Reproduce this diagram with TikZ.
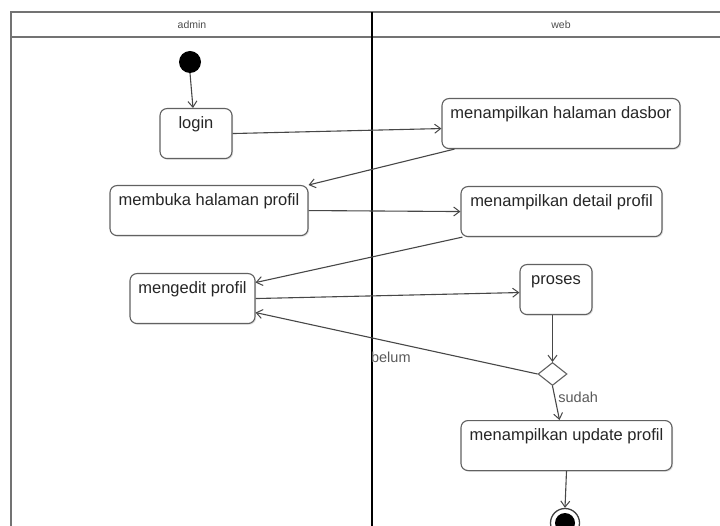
\documentclass[tikz,border=0pt]{standalone}
\usepackage{fontspec}
\setmainfont{Liberation Sans}
\usetikzlibrary{arrows.meta,shapes.geometric,shadows}
\begin{document}
\begin{tikzpicture}[x=1pt,y=-1pt,
  act/.style={draw=black!62, line width=1.1pt, rounded corners=7pt, fill=white,
    anchor=north, font=\fontsize{16.5}{19}\selectfont, text=black!85,
    inner xsep=2pt, inner ysep=0pt, text height=20pt, text depth=30pt,
    drop shadow={shadow xshift=1.2pt, shadow yshift=-1.2pt, opacity=0.25}},
  flow/.style={draw=black!72, line width=1.1pt,
    -{Straight Barb[length=6pt,width=9pt,line width=1pt]}},
  lane/.style={font=\fontsize{10.5}{12}\selectfont, text=black!70},
  guard/.style={font=\fontsize{14.5}{16}\selectfont, text=black!65, inner sep=0pt},
  frameline/.style={draw=black!55, line width=1.2pt}]
\useasboundingbox (0,0) rectangle (720,526);

% swimlane frame
\draw[frameline] (11,526) -- (11,12) -- (720,12);
\draw[draw=black!55, line width=1.6pt] (11,37) -- (720,37);
\draw[line width=2.6pt] (372,12) -- (372,526);
\node[lane] (admin) at (192,25) {admin};
\node[lane] (web) at (561,25) {web};

% initial node
\node[circle, fill=black, minimum size=22pt, inner sep=0pt] (start) at (190,62) {};

% activities
\node[act, minimum width=72pt]  (login)   at (196,108)   {login};
\node[act, minimum width=238pt] (dasbor)  at (561,98)    {menampilkan halaman dasbor};
\node[act, minimum width=198pt] (membuka) at (209,185)   {membuka halaman profil};
\node[act, minimum width=201pt] (detail)  at (561.5,186) {menampilkan detail profil};
\node[act, minimum width=125pt] (edit)    at (192.5,273) {mengedit profil};
\node[act, minimum width=72pt]  (proses)  at (556,264)   {proses};
\node[act, minimum width=211pt] (update)  at (566.5,420) {menampilkan update profil};

% decision
\node[diamond, draw=black!62, line width=1.1pt, fill=white, minimum width=29pt,
  minimum height=23pt, inner sep=0pt] (dec) at (552.5,374) {};

% final node
\node[circle, draw=black!75, line width=1.3pt, fill=white, minimum size=29pt,
  inner sep=0pt] (fin) at (565,523) {};
\fill (fin.center) circle (10pt);

% control flow
\draw[flow] (start.south) -- ([xshift=-3pt]login.north);
\draw[flow] (login.east) -- ([yshift=-5pt]dasbor.west);
\draw[flow] ([xshift=13pt]dasbor.south west) -- (membuka.north east);
\draw[flow] (membuka.east) -- (detail.west);
\draw[flow] ([xshift=2pt]detail.south west) -- ([yshift=16pt]edit.east);
\draw[flow] (edit.east) -- ([yshift=-3pt]proses.west);
\draw[flow] ([xshift=-3.5pt]proses.south) -- (dec.north);
\draw[flow] (dec.west) -- node[guard, pos=0.52, below=9pt] {belum} ([yshift=-14pt]edit.east);
\draw[flow] (dec.south) -- node[guard, pos=0.34, right=3pt] {sudah} ([xshift=-7pt]update.north);
\draw[flow] (update.south) -- (fin.north);
\end{tikzpicture}
\end{document}
